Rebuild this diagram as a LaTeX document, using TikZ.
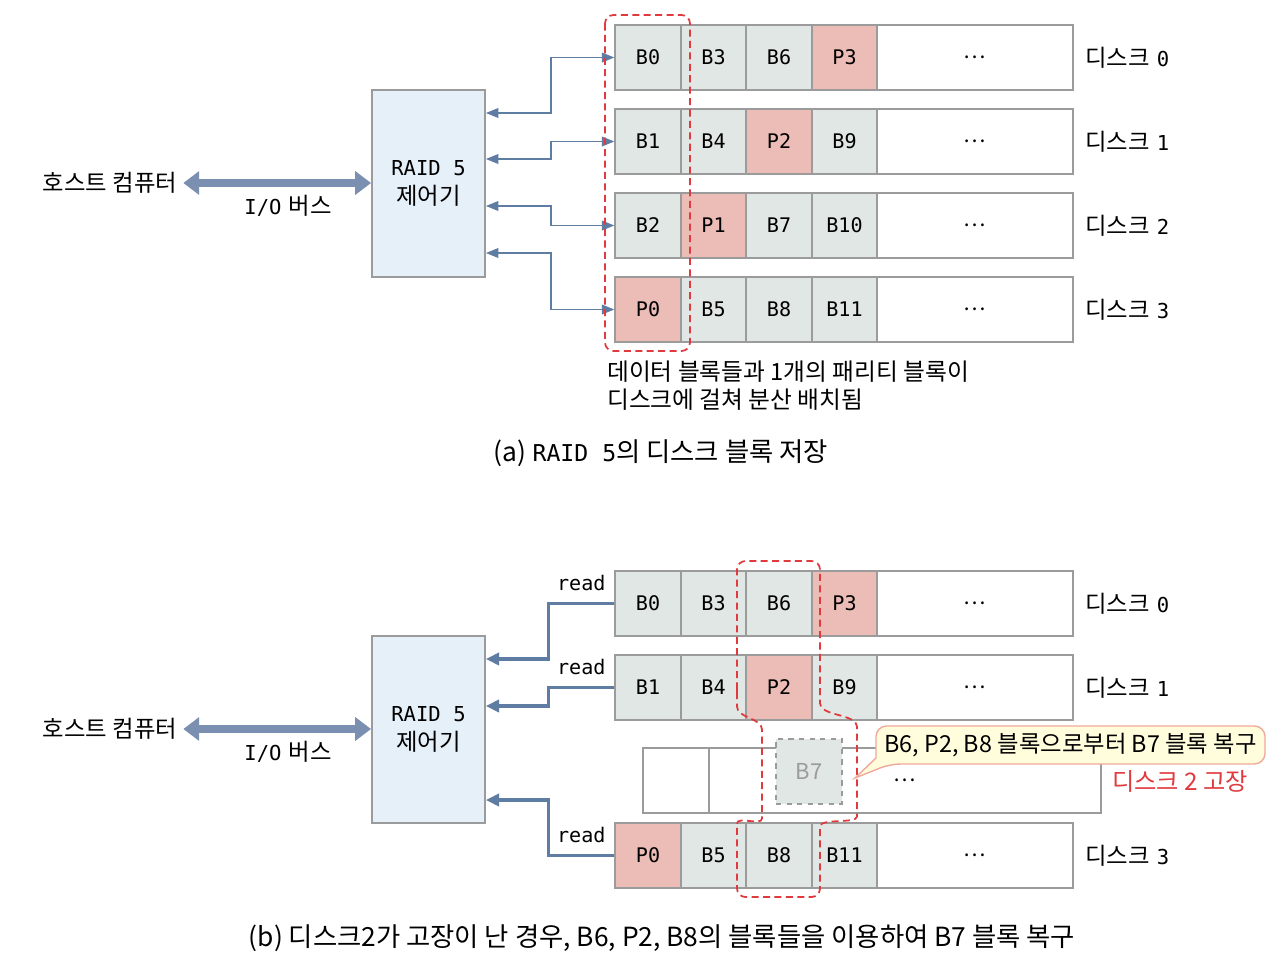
\documentclass[tikz,border=0pt]{standalone}
\usepackage{fontspec}
\setmainfont{Noto Sans CJK KR}
\newfontfamily\monof{DejaVu Sans Mono}[Scale=0.88]
\usetikzlibrary{arrows.meta}

\definecolor{datagray}{HTML}{E1E7E5}
\definecolor{paritypink}{HTML}{ECBDB6}
\definecolor{edgegray}{HTML}{9B9B9B}
\definecolor{ctrlblue}{HTML}{E6F0F9}
\definecolor{busblue}{HTML}{7B8FB0}
\definecolor{linkblue}{HTML}{5F7CA3}
\definecolor{faultred}{HTML}{E0393E}
\definecolor{notefill}{HTML}{FFFDDB}
\definecolor{noteedge}{HTML}{EFA99C}

\tikzset{
  cell/.style={draw=edgegray, line width=1.1pt, minimum width=1.31cm, minimum height=1.3cm,
    inner sep=0pt, font={\monof\fontsize{13pt}{16pt}\selectfont}},
  datacell/.style={fill=datagray},
  paritycell/.style={fill=paritypink},
  rest/.style={cell, fill=white, minimum width=3.92cm, font={\fontsize{12pt}{14pt}\selectfont}},
  disklbl/.style={anchor=west, inner sep=0pt, font={\fontsize{13.3pt}{16pt}\selectfont}},
  ctrl/.style={draw=edgegray, line width=1.1pt, fill=ctrlblue, minimum width=2.26cm,
    minimum height=3.74cm, align=center, font={\fontsize{13.3pt}{16.4pt}\selectfont}},
  hostlbl/.style={font={\fontsize{13.3pt}{16pt}\selectfont}},
  bus/.style={busblue, line width=5pt,
    {Triangle[length=9pt,width=13pt]}-{Triangle[length=9pt,width=13pt]}},
  link/.style={linkblue, line width=0.7pt,
    {Triangle[length=7pt,width=5.5pt]}-{Triangle[length=7pt,width=5.5pt]}},
  readlink/.style={linkblue, line width=1.8pt, -{Triangle[length=7.5pt,width=7pt]}},
  readlbl/.style={above=6.5pt, inner sep=0pt, text=black, font={\monof\fontsize{13pt}{16pt}\selectfont}},
  fault/.style={faultred, line width=1pt, dash pattern=on 4pt off 2.5pt, rounded corners=0.17cm},
  lost/.style={draw=edgegray, line width=1.1pt, dashed, fill=datagray, text=edgegray,
    minimum width=1.32cm, minimum height=1.3cm, font={\fontsize{12.5pt}{14pt}\selectfont}},
  note/.style={inner sep=0pt, font={\fontsize{13.3pt}{16pt}\selectfont}},
  caption/.style={font={\fontsize{15pt}{18pt}\selectfont}},
}

\begin{document}
\begin{tikzpicture}[x=0.02cm, y=-0.02cm]
  \useasboundingbox (0,0) rectangle (1276,964);

  % disk rows of (a) and (b)
  \foreach \rw/\y/\txt/\lab in {
      a0/57.5/{B0/datacell,B3/datacell,B6/datacell,P3/paritycell}/0,
      a1/141.5/{B1/datacell,B4/datacell,P2/paritycell,B9/datacell}/1,
      a2/225.5/{B2/datacell,P1/paritycell,B7/datacell,B10/datacell}/2,
      a3/309.5/{P0/paritycell,B5/datacell,B8/datacell,B11/datacell}/3,
      b0/603.5/{B0/datacell,B3/datacell,B6/datacell,P3/paritycell}/0,
      b1/687.5/{B1/datacell,B4/datacell,P2/paritycell,B9/datacell}/1,
      b3/855.5/{P0/paritycell,B5/datacell,B8/datacell,B11/datacell}/3}{
    \foreach \t/\s [count=\c from 0] in \txt
      \node[cell,\s] (\rw\c) at ({648+65.5*\c},\y) {\t};
    \node[rest] (\rw e) at (975,\y) {…};
    \node[disklbl] (\rw l) at (1085,\y) {디스크\hspace{0.3em}{\monof\lab}};
  }

  % (a) controller and host
  \node[ctrl] (ctrla) at (428.5,183.5) {{\monof RAID 5}\\제어기};
  \node[hostlbl] (hosta) at (110,183) {호스트 컴퓨터};
  \node[hostlbl] (busa) at (288,206) {{\monof I/O}\hspace{0.3em}버스};
  \draw[bus] (hosta.east) -- (hosta.east -| ctrla.west);

  \draw[link] (ctrla.east |- 0,113) -- ++(65,0) |- (a00.west);
  \draw[link] (ctrla.east |- 0,159) -- ++(65,0) |- (a10.west);
  \draw[link] (ctrla.east |- 0,206) -- ++(65,0) |- (a20.west);
  \draw[link] (ctrla.east |- 0,253) -- ++(65,0) |- (a30.west);

  \draw[fault] (605,15) rectangle (690,351);

  \node[anchor=west, align=left, inner sep=0pt, font={\fontsize{13.5pt}{15.9pt}\selectfont}] (capnote)
    at (607,386) {데이터 블록들과 1개의 패리티 블록이\\디스크에 걸쳐 분산 배치됨};
  \node[caption] (capa) at (661,453) {(a) {\monof RAID 5}의 디스크 블록 저장};

  % (b) failed disk 2
  \node[cell, fill=white] (b20) at (676,780.5) {};
  \node[rest, minimum width=7.84cm] (b2e) at (905,780.5) {…};
  \node[lost] (b7) at (809,771.5) {B7};
  \node[disklbl, text=faultred, anchor=center, font={\fontsize{13.8pt}{16pt}\selectfont}] (b2l)
    at (1180,781) {디스크 2 고장};

  \draw[fault] (737,698) -- (737,561) -- (820,561) -- (820,695)
    .. controls (820,716) and (857,714) .. (857,735) -- (857,808)
    .. controls (857,824) and (820,818) .. (820,835) -- (820,897) -- (737,897) -- (737,832)
    .. controls (737,816) and (762,826) .. (762,810) -- (762,738)
    .. controls (762,718) and (737,718) .. (737,698) -- cycle;

  % callout
  \coordinate (tip) at (855,778);
  \filldraw[draw=noteedge, fill=notefill, line width=0.8pt, rounded corners=6pt]
    (876,726) -- (1265,726) -- (1265,764) -- (890,764) [sharp corners] -- (tip)
    -- (876,758) [rounded corners=6pt] -- cycle;
  \node[note] (hint) at (1070.5,745) {B6, P2, B8 블록으로부터 B7 블록 복구};

  % (b) controller and host
  \node[ctrl] (ctrlb) at (428.5,729.5) {{\monof RAID 5}\\제어기};
  \node[hostlbl] (hostb) at (110,729) {호스트 컴퓨터};
  \node[hostlbl] (busb) at (288,752) {{\monof I/O}\hspace{0.3em}버스};
  \draw[bus] (hostb.east) -- (hostb.east -| ctrlb.west);

  \draw[readlink] (b00.west) -- node[readlbl] {read} ++(-66,0) |- (ctrlb.east |- 0,659);
  \draw[readlink] (b10.west) -- node[readlbl] {read} ++(-66,0) |- (ctrlb.east |- 0,706);
  \draw[readlink] (b30.west) -- node[readlbl] {read} ++(-66,0) |- (ctrlb.east |- 0,800);

  \node[caption] (capb) at (662,938) {(b) 디스크2가 고장이 난 경우, B6, P2, B8의 블록들을 이용하여 B7 블록 복구};
\end{tikzpicture}
\end{document}
